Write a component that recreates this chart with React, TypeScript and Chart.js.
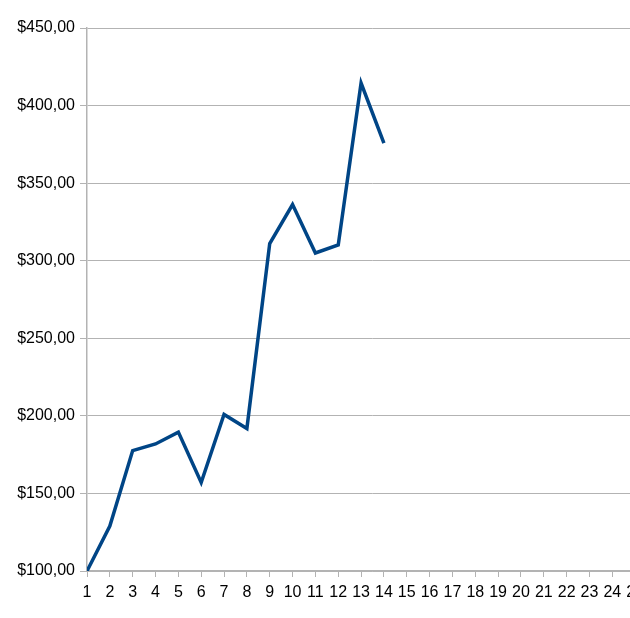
import React, { useEffect, useRef } from "react";
import { Chart, registerables } from "chart.js";

Chart.register(...registerables);

const days = [1, 2, 3, 4, 5, 6, 7, 8, 9, 10, 11, 12, 13, 14];
const prices = [100, 129, 177.6, 181.9, 189.5, 157, 200.9, 191.8, 311, 336.2, 305, 310.2, 414.5, 375.8];
const yTicks = [100, 150, 200, 250, 300, 350, 400, 450];

const GREY = "#b3b3b3";

const formatMoney = (v: number) => "$" + v.toFixed(2).replace(".", ",");

const App = () => {
  const canvasRef = useRef<HTMLCanvasElement | null>(null);

  useEffect(() => {
    const ctx = canvasRef.current?.getContext("2d") as CanvasRenderingContext2D;
    const chart = new Chart(ctx, {
      type: "line",
      data: {
        datasets: [
          {
            data: days.map((d, i) => ({ x: d, y: prices[i] })),
            borderColor: "#004586",
            backgroundColor: "#004586",
            borderWidth: 3.5,
            pointRadius: 0,
            tension: 0,
            fill: false,
          },
        ],
      },
      options: {
        animation: false,
        responsive: false,
        maintainAspectRatio: false,
        layout: { padding: { top: 28, right: 0, left: 0, bottom: 0 } },
        plugins: {
          legend: { display: false },
          tooltip: { enabled: false },
        },
        scales: {
          x: {
            type: "linear",
            min: 1,
            max: 26,
            ticks: {
              stepSize: 1,
              color: "#000",
              padding: 6,
              maxRotation: 0,
              autoSkip: false,
              font: { family: "'Liberation Sans', Arial, sans-serif", size: 16 },
            },
            grid: {
              drawOnChartArea: false,
              drawTicks: true,
              tickLength: 6,
              color: GREY,
            },
            border: { color: GREY, width: 1.5 },
            afterFit: (scale: any) => {
              scale.height = 47;
              scale.paddingLeft = 0;
              scale.paddingRight = 0;
            },
          },
          y: {
            min: 100,
            max: 450,
            afterBuildTicks: (scale: any) => {
              scale.ticks = yTicks.map((v) => ({ value: v }));
            },
            ticks: {
              color: "#000",
              padding: 5,
              callback: (v: any) => formatMoney(Number(v)),
              font: { family: "'Liberation Sans', Arial, sans-serif", size: 16 },
            },
            grid: {
              color: GREY,
              lineWidth: 1,
              tickLength: 7,
            },
            border: { color: GREY, width: 1.5 },
            afterFit: (scale: any) => {
              scale.width = 87;
              scale.paddingTop = 0;
              scale.paddingBottom = 0;
            },
          },
        },
      },
    } as any);

    return () => {
      chart.destroy();
    };
  }, []);

  return (
    <div
      style={{
        position: "fixed",
        left: 0,
        top: 0,
        width: 630,
        height: 618,
        overflow: "hidden",
        background: "#fff",
      }}
    >
      <canvas ref={canvasRef} width={658} height={618} style={{ display: "block", width: 658, height: 618 }} />
    </div>
  );
};

export default App;
